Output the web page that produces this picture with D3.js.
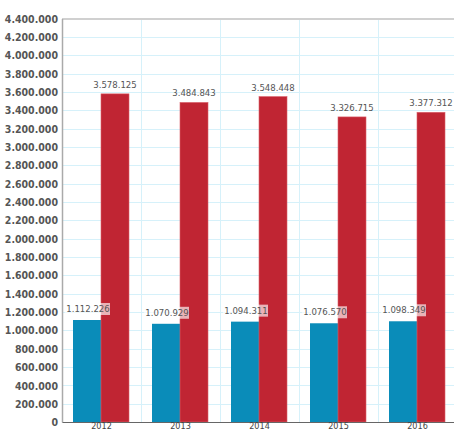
<!DOCTYPE html>
<html><head><meta charset="utf-8">
<script src="https://cdn.jsdelivr.net/npm/d3@7"></script>
<style>
html,body{margin:0;padding:0;background:#fff;overflow:hidden;}
svg{display:block;}
text{font-family:"DejaVu Sans Condensed","DejaVu Sans",sans-serif;}
</style></head><body>
<svg id="c" width="454" height="430"></svg>
<script>
const categories = ["2012","2013","2014","2015","2016"];
const seriesNames = ["blue","red"];
const blueValues = [1112226,1070929,1094311,1076570,1098349];
const redValues = [3578125,3484843,3548448,3326715,3377312];
const yTicks = [0,200000,400000,600000,800000,1000000,1200000,1400000,1600000,1800000,2000000,2200000,2400000,2600000,2800000,3000000,3200000,3400000,3600000,3800000,4000000,4200000,4400000];

const colors = {blue:"#0a8cb9", red:"#c02533"};
const fmt = v => d3.format(",")(v).replace(/,/g,".");

const svg = d3.select("#c");
const pL = 62, pR = 457, pT = 18.5, pB = 422;

const x = d3.scaleBand().domain(categories).range([pL,pR]).padding(0);
const x1 = d3.scaleBand().domain(seriesNames).range([11, 67]).padding(0);
const y = d3.scaleLinear().domain([0,4400000]).range([pB, pT]);

// grid
const g = svg.append("g");
g.selectAll("line.h").data(yTicks.slice(1)).join("line")
  .attr("x1",pL).attr("x2",454).attr("y1",d=>Math.round(y(d))+0.5).attr("y2",d=>Math.round(y(d))+0.5)
  .attr("stroke","#d6f1fa").attr("stroke-width",1);
g.selectAll("line.v").data(categories.slice(1)).join("line")
  .attr("x1",d=>Math.round(x(d))+0.5).attr("x2",d=>Math.round(x(d))+0.5).attr("y1",pT).attr("y2",pB)
  .attr("stroke","#d6f1fa").attr("stroke-width",1);

// top border
svg.append("line").attr("x1",pL).attr("x2",454).attr("y1",19).attr("y2",19)
  .attr("stroke","#d0d0d0").attr("stroke-width",2);

// bars
const data = categories.map((c,i)=>({c, vals:[{s:"blue",v:blueValues[i]},{s:"red",v:redValues[i]}]}));
const grp = svg.selectAll("g.cat").data(data).join("g").attr("transform",d=>`translate(${x(d.c)},0)`);
grp.selectAll("rect").data(d=>d.vals).join("rect")
  .attr("x",d=>x1(d.s)).attr("width",x1.bandwidth())
  .attr("y",d=>y(d.v)).attr("height",d=>pB-y(d.v))
  .attr("fill",d=>colors[d.s])
  .attr("stroke",d=>d.s==="red"?"#d9606a":"none").attr("stroke-width",0.6);

// y axis
const yAxis = d3.axisLeft(y).tickValues(yTicks).tickFormat(fmt).tickSize(0).tickPadding(4);
const ya = svg.append("g").attr("transform",`translate(${pL},0)`).call(yAxis);
ya.select(".domain").attr("stroke","#aaaaaa").attr("stroke-width",1.5);
ya.selectAll("text").attr("font-size","10.5px").attr("fill","#555").attr("font-weight","bold")
  .attr("font-family","'DejaVu Sans Condensed','DejaVu Sans',sans-serif").attr("dy","0.35em");

// x axis
const xAxis = d3.axisBottom(x).tickSize(0).tickPadding(1);
const xa = svg.append("g").attr("transform",`translate(0,${pB})`).call(xAxis);
xa.select(".domain").attr("stroke","#666").attr("stroke-width",1);
xa.selectAll("text").attr("font-size","9px").attr("fill","#444")
  .attr("font-family","'DejaVu Sans Condensed','DejaVu Sans',sans-serif");

// red labels
grp.append("text").datum(d=>d.vals[1])
  .attr("x",d=>x1("red")+x1.bandwidth()/2).attr("y",d=>y(d.v)-6)
  .attr("text-anchor","middle").attr("font-size","9.5px").attr("fill","#555")
  .text(d=>fmt(d.v));

// blue labels with semi-transparent box
const bl = grp.append("g").datum(d=>d.vals[0]);
bl.append("rect")
  .attr("x",d=>x1("blue")+x1.bandwidth()/2-22).attr("width",45)
  .attr("y",d=>y(d.v)-17).attr("height",12)
  .attr("fill","#ffffff").attr("fill-opacity",0.65);
bl.append("text")
  .attr("x",d=>x1("blue")+x1.bandwidth()/2+1).attr("y",d=>y(d.v)-8)
  .attr("text-anchor","middle").attr("font-size","9.5px").attr("fill","#555")
  .text(d=>fmt(d.v));
</script>
</body></html>
